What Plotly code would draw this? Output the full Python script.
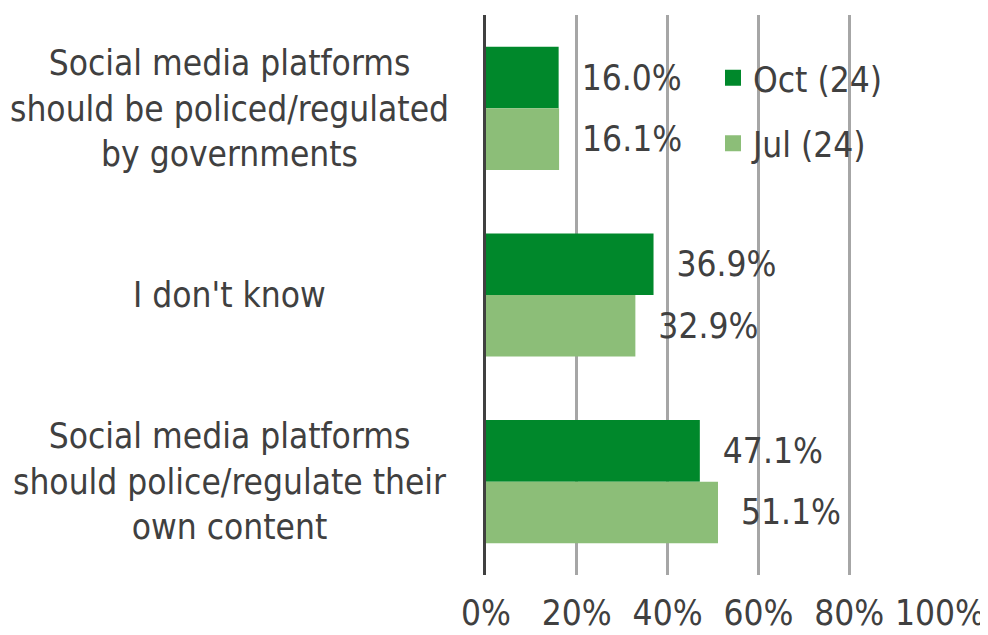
import plotly.graph_objects as go

CATEGORIES = [
    "Social media platforms<br>should be policed/regulated<br>by governments",
    "I don't know",
    "Social media platforms<br>should police/regulate their<br>own content",
]
OCT_24 = [16.0, 36.9, 47.1]
JUL_24 = [16.1, 32.9, 51.1]
TICK_VALUES = [0, 20, 40, 60, 80, 100]
TICK_LABELS = ["0%", "20%", "40%", "60%", "80%", "100%"]

FONT = "DejaVu Sans Condensed"
TEXT_COLOR = "#404040"
SIZE = 35

fig = go.Figure()

for name, values, color in (
    ("Oct (24)", OCT_24, "#00882B"),
    ("Jul (24)", JUL_24, "#8CBE78"),
):
    fig.add_trace(
        go.Bar(
            y=CATEGORIES,
            x=values,
            name=name,
            orientation="h",
            marker=dict(color=color, line=dict(width=0)),
            text=["  {0:.1f}%".format(v) for v in values],
            textposition="outside",
            textfont=dict(family=FONT, size=SIZE, color=TEXT_COLOR),
            constraintext="none",
            cliponaxis=False,
            showlegend=False,
        )
    )
    # legend entry with a bigger square symbol
    fig.add_trace(
        go.Scatter(
            x=[None],
            y=[None],
            mode="markers",
            name=name,
            marker=dict(symbol="square", size=22, color=color),
            legendgroup=name,
        )
    )

for cat in CATEGORIES:
    fig.add_annotation(
        text=cat,
        xref="paper",
        yref="y",
        x=-0.564,
        y=cat,
        xanchor="center",
        yanchor="middle",
        align="center",
        showarrow=False,
        font=dict(family=FONT, size=SIZE, color=TEXT_COLOR),
    )

fig.update_xaxes(
    range=[0, 100],
    tickvals=TICK_VALUES,
    ticktext=TICK_LABELS,
    showgrid=True,
    gridcolor="#A6A6A6",
    gridwidth=2.5,
    zeroline=False,
    showline=False,
    ticks="",
    ticklabelstandoff=14,
    automargin=False,
    tickfont=dict(family=FONT, size=SIZE, color=TEXT_COLOR),
)
fig.update_yaxes(
    autorange="reversed",
    showticklabels=False,
    showgrid=False,
    showline=True,
    linecolor="#404040",
    linewidth=2.5,
    ticks="",
    automargin=False,
)

# page body has an 8px margin, so the figure is a bit smaller than the window
fig.update_layout(
    width=980,
    height=627,
    margin=dict(l=478, r=48, t=7, b=60),
    barmode="group",
    bargap=0.34,
    bargroupgap=0,
    plot_bgcolor="white",
    paper_bgcolor="white",
    font=dict(family=FONT, size=SIZE, color=TEXT_COLOR),
    showlegend=True,
    legend=dict(
        x=0.5,
        y=0.94,
        xanchor="left",
        yanchor="top",
        bgcolor="rgba(0,0,0,0)",
        tracegroupgap=17,
        itemwidth=30,
        font=dict(family=FONT, size=SIZE, color=TEXT_COLOR),
    ),
)

fig.write_html("out.html")
